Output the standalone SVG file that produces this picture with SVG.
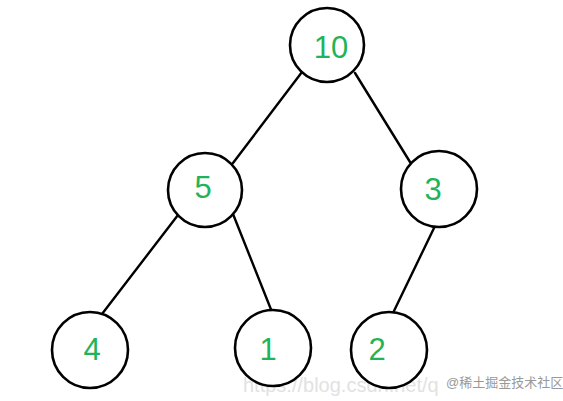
<svg xmlns="http://www.w3.org/2000/svg" width="563" height="401" viewBox="0 0 563 401">
<style>
.n{fill:#fff;stroke:#000;stroke-width:2.6}
.t{font-family:"Liberation Sans",Arial,sans-serif;font-size:31px;fill:#1fb45a;text-anchor:middle}
.e{stroke:#000;stroke-width:2.4;stroke-linecap:round}
</style>
<rect width="563" height="401" fill="#fff"/>
<g id="edges">
<line class="e" x1="302" y1="72" x2="233" y2="163"/>
<line class="e" x1="355" y1="73" x2="410" y2="162"/>
<line class="e" x1="178" y1="215" x2="102" y2="314"/>
<line class="e" x1="233" y1="214" x2="272" y2="312"/>
<line class="e" x1="435" y1="226" x2="393" y2="313"/>
</g>
<text x="243" y="392" font-family="'Liberation Sans',Arial,sans-serif" font-size="20" fill="#e2e2e2">https://blog.csdn.net/q</text>
<g id="n10"><circle class="n" cx="327" cy="45" r="37"/><text class="t" x="331" y="58">10</text></g>
<g id="n5"><circle class="n" cx="205" cy="190" r="37"/><text class="t" x="203" y="198">5</text></g>
<g id="n3"><circle class="n" cx="439" cy="189" r="38"/><text class="t" x="433" y="200">3</text></g>
<g id="n4"><circle class="n" cx="90" cy="350" r="38"/><text class="t" x="92" y="360">4</text></g>
<g id="n1"><circle class="n" cx="273" cy="348" r="38"/><text class="t" x="268" y="360">1</text></g>
<g id="n2"><circle class="n" cx="389" cy="350" r="38"/><text class="t" x="377" y="360">2</text></g>
<text x="446" y="387" font-family="'Liberation Sans','Noto Sans CJK SC',sans-serif" font-size="13" fill="#999">@稀土掘金技术社区</text>
</svg>
